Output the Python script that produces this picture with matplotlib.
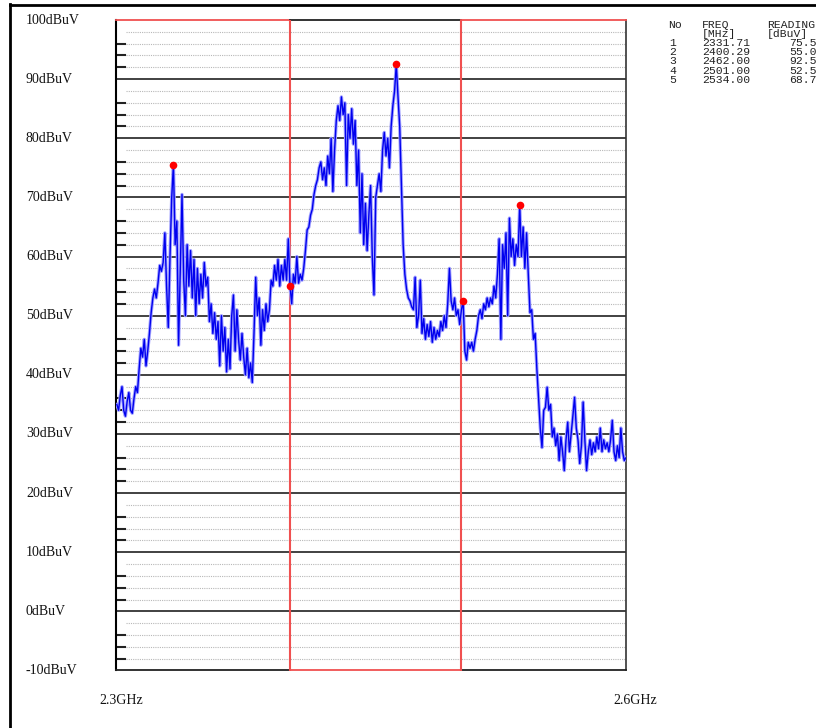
import matplotlib
matplotlib.use("Agg")
import matplotlib.pyplot as plt
import matplotlib.transforms as mtransforms
from matplotlib.lines import Line2D
import numpy as np

# trace, 1 MHz per point starting at sweep_start (MHz), dBuV
sweep_start = 2299
level = [
    35, 34, 36.5, 38, 34, 33, 35.5, 37, 34, 33.5, 36,          # 2299-2309
    38, 37, 41, 44.5, 43, 46, 41.5, 44, 47, 50.5,              # 2310
    53, 54.5, 53, 55.5, 58.5, 57.5, 59, 64, 55, 48,            # 2320
    60, 70, 75.5, 62, 66, 45, 58, 70.5, 56, 50,                # 2330
    62, 55, 61, 53, 59.5, 50, 58, 52, 57, 53,                  # 2340
    59, 55, 56.5, 49, 52, 47, 50.5, 46, 49, 41.5,              # 2350
    50, 44, 48, 40.5, 46, 41, 50, 53.5, 44, 51,                # 2360
    46, 42.5, 47, 43, 40, 44.5, 39.5, 42, 38.7, 47,            # 2370
    56.5, 50, 53, 45, 51, 47.5, 52, 49, 51, 56,                # 2380
    55, 58.5, 56, 59.5, 55, 58.5, 56, 59.5, 56, 63,            # 2390
    55, 52, 57, 55.5, 60, 55.5, 57, 56, 58, 61,                # 2400
    64.5, 65, 67, 68, 70.5, 72, 73, 75, 76, 73,                # 2410
    75, 72, 77, 74, 80, 71, 78, 83, 85.5, 83,                  # 2420
    87, 84, 86, 72, 84, 80, 85, 79, 83, 72,                    # 2430
    78, 64, 74, 62, 69, 61, 67, 72, 60, 53.5,                  # 2440
    70, 72, 74, 71, 78, 81, 77, 80, 75, 82,                    # 2450
    85.5, 88, 92.5, 87, 82, 72, 62, 57, 54.5, 53,              # 2460
    52.5, 51.5, 51, 56.5, 48, 50, 56, 47, 49.5, 46,            # 2470
    48.5, 46.5, 49, 45.5, 48, 46, 47.5, 46.5, 49, 47.5,        # 2480
    50, 48, 52, 58, 52.5, 51, 53, 50, 51, 48.5,                # 2490
    51, 52.5, 44, 42.5, 45.5, 44.5, 45.5, 44, 46, 47.5,        # 2500
    50, 51, 49.5, 52, 51, 53, 51.5, 53, 52, 55,                # 2510
    53, 57, 63, 46, 62, 58, 64, 50, 66.5, 60,                  # 2520
    63, 58.5, 62, 60, 68.7, 60, 65, 58, 64, 57,                # 2530
    50.5, 51, 46, 47, 41, 36, 31, 27.7, 34, 34.5,              # 2540
    37.9, 34, 35, 29.5, 31, 28, 30, 25.5, 29.5, 27,            # 2550
    23.8, 29, 32, 27, 30, 33, 36.2, 31, 29, 25,                # 2560
    28, 35.4, 29, 23.8, 27, 29, 26.5, 28.5, 27, 29.5,          # 2570
    27.5, 31, 27, 29, 27.5, 28.5, 27, 29, 32.3, 27,            # 2580
    25.5, 28, 26, 31, 27, 25.5, 26,                            # 2590-2596
]
freq = sweep_start + np.arange(len(level))

marker_no = ["1", "2", "3", "4", "5"]
marker_freq = [2331.71, 2400.29, 2462.00, 2501.00, 2534.00]
marker_level = [75.5, 55.0, 92.5, 52.5, 68.7]

band_edges = [2400, 2500]
y_major = list(range(-10, 101, 10))
y_labels = [f"{v}dBuV" for v in y_major]
x_labels = ["2.3GHz", "2.6GHz"]

W, H = 816, 728
x_lo, x_hi = 2298.5, 2596
RED = "#f05050"

fig = plt.figure(figsize=(W / 100, H / 100), dpi=100)
ax = fig.add_axes([116 / W, 1 - 670.5 / H, 510 / W, 650.5 / H])
ax.set_xlim(x_lo, x_hi)
ax.set_ylim(-10, 100)
ax.set_xticks([])
ax.set_yticks([])
for side in ("top", "bottom"):
    ax.spines[side].set_visible(False)
ax.spines["left"].set_linewidth(1.5)
ax.spines["right"].set_color("#333333")
ax.spines["right"].set_linewidth(1.2)

# minor grid, dotted, with short ticks at the left edge
for v in range(-8, 100, 2):
    if v % 10 == 0:
        continue
    ax.axhline(v, xmin=0.02, color="#b8b8b8", lw=0.8, ls=(0, (1, 1)), zorder=1)
    if v % 10 != 8:
        ax.axhline(v, xmin=0, xmax=9 / 510, color="#222222", lw=1.5, zorder=2)

# major grid
for v in y_major[1:-1]:
    ax.axhline(v, color="#333333", lw=1.3, zorder=2)

# frame top / bottom, red segments mark the band sections
edges = [x_lo] + band_edges + [x_hi]
top_cols = [RED, "#222222", RED]
bot_cols = ["#222222", RED, "#222222"]
for i in range(3):
    ax.plot(edges[i:i + 2], [100, 100], color=top_cols[i], lw=1.3, clip_on=False, zorder=3)
    ax.plot(edges[i:i + 2], [-10, -10], color=bot_cols[i], lw=1.3, clip_on=False, zorder=3)
for f in band_edges:
    ax.axvline(f, color=RED, lw=1.5, zorder=3)

# trace
ax.plot(freq, level, color="#a0a0ff", lw=2.4, zorder=4)
ax.plot(freq, level, color="#0000ee", lw=1.0, zorder=5)
ax.plot(marker_freq, marker_level, "o", color="red", mec="none", ms=5.5, zorder=6)

# axis labels
trans = mtransforms.blended_transform_factory(fig.transFigure, ax.transData)
for v, lab in zip(y_major, y_labels):
    fig.text(26 / W, v, lab, transform=trans, ha="left", va="center",
             fontsize=10, family="Liberation Serif", color="#111111")
for xp, lab in zip([121.6, 635], x_labels):
    fig.text(xp / W, 1 - 700.7 / H, lab, ha="center", va="center",
             fontsize=10, family="Liberation Serif", color="#111111")

# marker table
mono = dict(fontsize=8.2, family="Liberation Mono", color="#222222", va="center", ha="left")
fig.text(668 / W, 1 - 24.5 / H, "No", **mono)
fig.text(702 / W, 1 - 24.5 / H, "FREQ", **mono)
fig.text(767 / W, 1 - 24.5 / H, "READING", **mono)
fig.text(702 / W, 1 - 33.7 / H, "[MHz]", **mono)
fig.text(767 / W, 1 - 33.7 / H, "[dBuV]", **mono)
for i, (n, f, v) in enumerate(zip(marker_no, marker_freq, marker_level)):
    yy = 1 - (43 + 9.2 * i) / H
    fig.text(669 / W, yy, n, **mono)
    fig.text(702 / W, yy, f"{f:.2f}", **mono)
    fig.text(789 / W, yy, f"{v:.1f}", **mono)

# page frame
fig.add_artist(Line2D([10 / W, 10 / W], [0, 1 - 4 / H], color="black", lw=2,
                      transform=fig.transFigure))
fig.add_artist(Line2D([10 / W, 1], [1 - 4.5 / H, 1 - 4.5 / H], color="black", lw=2,
                      transform=fig.transFigure))

fig.savefig("out.png", dpi=100)
